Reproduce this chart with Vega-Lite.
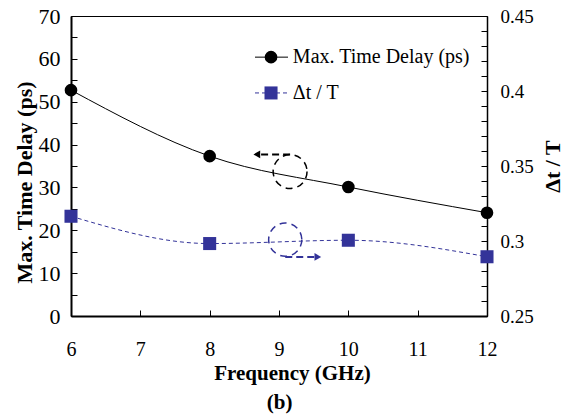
{
  "$schema": "https://vega.github.io/schema/vega-lite/v6.json",
  "width": 416,
  "height": 300,
  "autosize": {"type": "none"},
  "padding": {"left": 71, "top": 16, "right": 79, "bottom": 100},
  "background": "white",
  "config": {
    "view": {"stroke": "black", "strokeWidth": 1},
    "font": "Liberation Serif",
    "axis": {
      "grid": false,
      "domainColor": "black",
      "tickColor": "black",
      "labelColor": "black",
      "titleColor": "black",
      "labelFont": "Liberation Serif",
      "titleFont": "Liberation Serif",
      "labelFontSize": 22,
      "titleFontSize": 22,
      "titleFontWeight": "bold",
      "tickSize": -6,
      "tickWidth": 1
    }
  },
  "datasets": {
    "delay": [
      {"x": 6, "y": 52.7},
      {"x": 8, "y": 37.3},
      {"x": 10, "y": 30.1},
      {"x": 12, "y": 24.1}
    ],
    "ratio": [
      {"x": 6, "y": 0.3165},
      {"x": 8, "y": 0.2983},
      {"x": 10, "y": 0.3005},
      {"x": 12, "y": 0.2895}
    ],
    "blackCircle": [{"x": 9.16, "y": 33.7}],
    "blackArrow": [{"x": 9.16, "x2": 8.72, "y": 37.7}],
    "blackHead": [{"x": 8.68, "y": 37.7}],
    "blueCircle": [{"x": 9.09, "y": 0.3009}],
    "blueArrow": [{"x": 9.09, "x2": 9.52, "y": 0.2894}],
    "blueHead": [{"x": 9.56, "y": 0.2894}],
    "legendBlackLine": [{"x": 8.654, "x2": 9.13, "y": 60.4}],
    "legendBlackSym": [{"x": 8.885, "y": 60.4}],
    "legendBlackText": [{"x": 9.2, "y": 60.4, "label": "Max. Time Delay (ps)"}],
    "legendBlueLine": [{"x": 8.654, "x2": 9.13, "y": 0.3987}],
    "legendBlueSym": [{"x": 8.885, "y": 0.3987}],
    "legendBlueText": [{"x": 9.2, "y": 0.3987, "label": "Δt / T"}],
    "caption": [{"x": 9.01, "y": -20.4, "label": "(b)"}]
  },
  "encoding": {
    "x": {
      "field": "x", "type": "quantitative",
      "scale": {"domain": [6, 12], "nice": false, "zero": false},
      "axis": {
        "title": "Frequency (GHz)",
        "titleFontSize": 21,
        "labelFontSize": 20,
        "titleX": 221,
        "values": [6, 7, 8, 9, 10, 11, 12],
        "domainWidth": 2,
        "labelPadding": 29,
        "titlePadding": 3,
        "labelFlush": false
      }
    }
  },
  "layer": [
    {
      "encoding": {
        "y": {
          "field": "y", "type": "quantitative",
          "scale": {"domain": [0, 70], "nice": false, "zero": false},
          "axis": {
            "title": "Max. Time Delay (ps)",
            "titleBaseline": "middle",
            "titleY": 166,
            "values": [0, 5, 10, 15, 20, 25, 30, 35, 40, 45, 50, 55, 60, 65, 70],
            "labelExpr": "datum.value % 10 === 0 ? datum.label : ''",
            "domainWidth": 2,
            "labelPadding": 17,
            "titlePadding": 14,
            "labelFlush": false
          }
        }
      },
      "layer": [
        {
          "data": {"name": "delay"},
          "mark": {"type": "line", "color": "black", "strokeWidth": 1, "interpolate": "monotone"}
        },
        {
          "data": {"name": "delay"},
          "mark": {"type": "point", "shape": "circle", "filled": true, "color": "black", "size": 160, "opacity": 1}
        },
        {
          "data": {"name": "blackCircle"},
          "mark": {"type": "point", "shape": "circle", "filled": false, "stroke": "black", "strokeWidth": 1.5, "strokeDash": [7, 5], "size": 1150, "opacity": 1}
        },
        {
          "data": {"name": "blackArrow"},
          "mark": {"type": "rule", "color": "black", "strokeWidth": 2, "strokeDash": [7, 4]},
          "encoding": {"x2": {"field": "x2"}}
        },
        {
          "data": {"name": "blackHead"},
          "mark": {"type": "point", "shape": "triangle-left", "filled": true, "color": "black", "size": 60, "opacity": 1}
        },
        {
          "data": {"name": "legendBlackLine"},
          "mark": {"type": "rule", "color": "black", "strokeWidth": 1},
          "encoding": {"x2": {"field": "x2"}}
        },
        {
          "data": {"name": "legendBlackSym"},
          "mark": {"type": "point", "shape": "circle", "filled": true, "color": "black", "size": 160, "opacity": 1}
        },
        {
          "data": {"name": "legendBlackText"},
          "mark": {"type": "text", "align": "left", "baseline": "middle", "font": "Liberation Serif", "fontSize": 20, "color": "black"},
          "encoding": {"text": {"field": "label"}}
        },
        {
          "data": {"name": "caption"},
          "mark": {"type": "text", "align": "center", "baseline": "middle", "font": "Liberation Serif", "fontSize": 21, "fontWeight": "bold", "color": "black"},
          "encoding": {"text": {"field": "label"}}
        }
      ]
    },
    {
      "encoding": {
        "y": {
          "field": "y", "type": "quantitative",
          "scale": {"domain": [0.25, 0.45], "nice": false, "zero": false},
          "axis": {
            "orient": "right",
            "title": "Δt / T",
            "titleAngle": 270,
            "titleBaseline": "middle",
            "labelFontSize": 19,
            "values": [0.25, 0.26, 0.27, 0.28, 0.29, 0.3, 0.31, 0.32, 0.33, 0.34, 0.35, 0.36, 0.37, 0.38, 0.39, 0.4, 0.41, 0.42, 0.43, 0.44, 0.45],
            "format": "~g",
            "labelExpr": "round(datum.value * 100) % 5 === 0 ? datum.label : ''",
            "domainWidth": 1.5,
            "labelPadding": 19,
            "titlePadding": 19,
            "labelFlush": false
          }
        }
      },
      "layer": [
        {
          "data": {"name": "ratio"},
          "mark": {"type": "line", "color": "#333399", "strokeWidth": 1, "strokeDash": [4, 3], "interpolate": "monotone"}
        },
        {
          "data": {"name": "ratio"},
          "mark": {"type": "point", "shape": "square", "filled": true, "color": "#333399", "size": 170, "opacity": 1}
        },
        {
          "data": {"name": "blueCircle"},
          "mark": {"type": "point", "shape": "circle", "filled": false, "stroke": "#333399", "strokeWidth": 1.5, "strokeDash": [7, 5], "size": 1100, "opacity": 1}
        },
        {
          "data": {"name": "blueArrow"},
          "mark": {"type": "rule", "color": "#333399", "strokeWidth": 2, "strokeDash": [7, 4]},
          "encoding": {"x2": {"field": "x2"}}
        },
        {
          "data": {"name": "blueHead"},
          "mark": {"type": "point", "shape": "triangle-right", "filled": true, "color": "#333399", "size": 60, "opacity": 1}
        },
        {
          "data": {"name": "legendBlueLine"},
          "mark": {"type": "rule", "color": "#333399", "strokeWidth": 1, "strokeDash": [4, 3]},
          "encoding": {"x2": {"field": "x2"}}
        },
        {
          "data": {"name": "legendBlueSym"},
          "mark": {"type": "point", "shape": "square", "filled": true, "color": "#333399", "size": 170, "opacity": 1}
        },
        {
          "data": {"name": "legendBlueText"},
          "mark": {"type": "text", "align": "left", "baseline": "middle", "font": "Liberation Serif", "fontSize": 20, "color": "black"},
          "encoding": {"text": {"field": "label"}}
        }
      ]
    }
  ],
  "resolve": {"scale": {"y": "independent"}}
}
